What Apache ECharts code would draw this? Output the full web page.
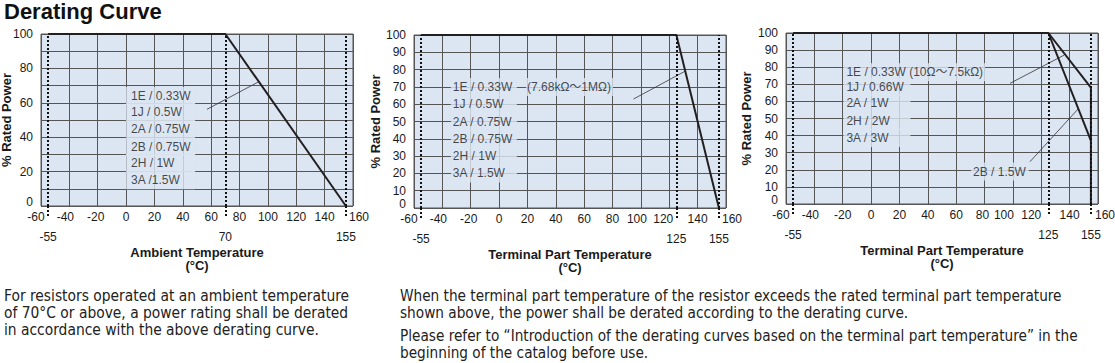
<!DOCTYPE html>
<html>
<head>
<meta charset="utf-8">
<script src="https://cdn.jsdelivr.net/npm/echarts@6/dist/echarts.min.js"></script>
<style>
html,body{margin:0;padding:0;background:#fff;}
#chart{position:absolute;left:0;top:0;width:1115px;height:363px;}
.para{position:absolute;font-family:"DejaVu Sans Condensed","Liberation Sans",sans-serif;line-height:17px;color:#222;white-space:nowrap;}
</style>
</head>
<body>
<div id="chart"></div>
<div class="para" id="p1" style="left:4px;top:288px;font-size:15.4px;"></div>
<div class="para" id="p2" style="left:400px;top:288px;font-size:15.2px;"></div>
<div class="para" id="p3" style="left:400px;top:328px;font-size:15.2px;"></div>
<script>
// ---------- data ----------
const xTickValues = [-60, 160, 20];           // min, max, interval of temperature axis
const yTickValues = [0, 100, 10];             // min, max, interval of % power axis

const curve1 = [[-55, 100], [70, 100], [155, 0]];
const curve2 = [[-55, 100], [125, 100], [155, 0]];
const curve3Outer = [[-55, 100], [125, 100], [155, 68], [155, 0]];
const curve3Inner = [[125, 100], [155, 37]];

const marks1 = [-55, 70, 155];
const marks2 = [-55, 125, 155];
const marks3 = [-55, 125, 155];

const labels1 = ['1E / 0.33W', '1J / 0.5W', '2A / 0.75W', '2B / 0.75W', '2H / 1W', '3A /1.5W'];
const labels1Y = [64, 54.5, 44.5, 34.5, 25, 15];
const labels1X = 0;
const leader1 = [[57, 56.2], [93, 72]];

const labels2 = ['1E / 0.33W', '1J / 0.5W', '2A / 0.75W', '2B / 0.75W', '2H / 1W', '3A / 1.5W'];
const labels2Y = [70, 60, 50, 40, 30, 20];
const labels2X = -34;
const extra2 = ['(7.68kΩ〜1MΩ)'];
const extra2Pos = [19, 70];
const leader2 = [[94.8, 63], [131, 79]];

const labels3Top = ['1E / 0.33W (10Ω〜7.5kΩ)'];
const labels3TopY = [77];
const labels3 = ['1J / 0.66W', '2A / 1W', '2H / 2W', '3A / 3W'];
const labels3Y = [68.6, 59, 48.5, 38.6];
const labels3X = -19.5;
const extra3 = ['2B / 1.5W'];
const extra3Pos = [70.5, 19];
const leader3a = [[98, 70.6], [136, 87]];
const leader3b = [[112, 24.7], [146, 55.6]];

const xName1 = 'Ambient Temperature\n(°C)';
const xName2 = 'Terminal Part Temperature\n(°C)';
const yName = '% Rated Power';

const paragraph1 = ['For resistors operated at an ambient temperature', 'of 70°C or above, a power rating shall be derated', 'in accordance with the above derating curve.'];
const paragraph2 = ['When the terminal part temperature of the resistor exceeds the rated terminal part temperature', 'shown above, the power shall be derated according to the derating curve.'];
const paragraph3 = ['Please refer to “Introduction of the derating curves based on the terminal part temperature” in the', 'beginning of the catalog before use.'];

// ---------- style ----------
const FONT = 'Liberation Sans, Noto Sans CJK JP, sans-serif';
const BG = '#dce6f2';
const GRIDC = '#555';
const INK = '#231f20';
const TXT = '#1a1a1a';
// horizontal nudges (px) of some tick labels, as in the printed original
const labelNudge = [
  {'-60': -5, '-40': -4, '-20': -2, '160': 6},
  {'-60': -5, '-40': -4, '-20': -2, '100': -4, '120': -6, '160': 6},
  {'-60': -5, '-40': -4, '80': -2, '100': -9, '120': -10, '160': 7}
];
const yNameGaps = [29, 33, 34];

document.getElementById('p1').innerHTML = paragraph1.join('<br>');
document.getElementById('p2').innerHTML = paragraph2.join('<br>');
document.getElementById('p3').innerHTML = paragraph3.join('<br>');

const grids = [
  {left: 41, top: 34, width: 312, height: 172},
  {left: 414, top: 35, width: 312, height: 173},
  {left: 786, top: 33, width: 312, height: 171}
].map(g => Object.assign(g, {show: true, backgroundColor: BG, borderColor: GRIDC, borderWidth: 1,
  containLabel: false, outerBoundsMode: 'none'}));

function nudgeRich() {
  const rich = {};
  labelNudge.forEach(m => Object.values(m).forEach(d => {
    const key = (d < 0 ? 'l' : 'r') + Math.abs(d);
    rich[key] = {fontSize: 12, color: TXT, fontFamily: FONT, lineHeight: 12,
      padding: d < 0 ? [0, 2 * Math.abs(d), 0, 0] : [0, 0, 0, 2 * d]};
  }));
  return rich;
}
const RICH = nudgeRich();

const xAxes = [], yAxes = [];
const marksAll = [marks1, marks2, marks3];
const xNames = [xName1, xName2, xName2];
for (let i = 0; i < 3; i++) {
  const nudge = labelNudge[i];
  xAxes.push({
    gridIndex: i, type: 'value', min: xTickValues[0], max: xTickValues[1], interval: xTickValues[2],
    axisLine: {show: false}, axisTick: {show: false},
    splitLine: {show: true, lineStyle: {color: GRIDC, width: 1}},
    axisLabel: {margin: 5, fontSize: 12, lineHeight: 12, color: TXT, fontFamily: FONT, rich: RICH,
      showMinLabel: true, showMaxLabel: true, hideOverlap: false,
      formatter: v => {
        const d = nudge[String(v)];
        if (!d) return String(v);
        return '{' + (d < 0 ? 'l' : 'r') + Math.abs(d) + '|' + v + '}';
      }}
  });
  xAxes.push({
    gridIndex: i, type: 'value', min: xTickValues[0], max: xTickValues[1], position: 'bottom',
    axisLine: {show: false}, splitLine: {show: false},
    axisTick: {show: true, customValues: marksAll[i], length: 12, lineStyle: {type: [2, 2], color: '#111', width: 2}},
    axisLabel: {customValues: marksAll[i], margin: 25, fontSize: 12, lineHeight: 12, color: TXT, fontFamily: FONT},
    name: xNames[i], nameLocation: 'middle', nameGap: 40, nameMoveOverlap: false,
    nameTextStyle: {fontSize: 13, fontWeight: 'bold', color: TXT, fontFamily: FONT, lineHeight: 13}
  });
  yAxes.push({
    gridIndex: i, type: 'value', min: yTickValues[0], max: yTickValues[1], interval: yTickValues[2],
    axisLine: {show: false}, axisTick: {show: false},
    splitLine: {show: true, lineStyle: {color: GRIDC, width: 1}},
    axisLabel: {margin: 8, fontSize: 12, lineHeight: 9, color: TXT, fontFamily: FONT,
      showMinLabel: true, showMaxLabel: true, hideOverlap: false,
      verticalAlignMinLabel: 'bottom',
      formatter: i === 0 ? (v => (v % 20 === 0 ? String(v) : '')) : (v => String(v))},
    name: yName, nameLocation: 'middle', nameGap: yNameGaps[i], nameMoveOverlap: false,
    nameTextStyle: {fontSize: 13, fontWeight: 'bold', color: TXT, fontFamily: FONT, lineHeight: 12}
  });
}

function curveSeries(i, data, marks) {
  const s = {
    type: 'line', xAxisIndex: 2 * i, yAxisIndex: i, data: data, showSymbol: false, symbol: 'none',
    lineStyle: {color: INK, width: 2}, z: 4, silent: true, animation: false
  };
  if (marks) {
    s.markLine = {
      silent: true, symbol: 'none', label: {show: false}, animation: false,
      lineStyle: {type: [2, 2], color: '#111', width: 2},
      data: marks.map(v => ({xAxis: v}))
    };
  }
  return s;
}
function leaderSeries(i, data) {
  return {type: 'line', xAxisIndex: 2 * i, yAxisIndex: i, data: data, showSymbol: false, symbol: 'none',
    lineStyle: {color: '#333', width: 0.8}, z: 3, silent: true, animation: false};
}
function labelSeries(i, names, xs, ys, width, pad) {
  return {
    type: 'scatter', xAxisIndex: 2 * i, yAxisIndex: i, symbolSize: 0, z: 6, silent: true, animation: false,
    data: names.map((n, k) => ({name: n, value: [Array.isArray(xs) ? xs[k] : xs, ys[k]]})),
    label: {show: true, position: 'right', distance: 0, formatter: p => p.name,
      fontSize: 12, color: TXT, fontFamily: FONT, lineHeight: 14,
      backgroundColor: BG, padding: pad, width: width, overflow: 'none'}
  };
}

const series = [
  curveSeries(0, curve1, marks1),
  leaderSeries(0, leader1),
  labelSeries(0, labels1, labels1X, labels1Y, 62, [2, 2, 2, 5]),

  curveSeries(1, curve2, marks2),
  leaderSeries(1, leader2),
  labelSeries(1, labels2, labels2X, labels2Y, 62, [2, 2, 2, 2]),
  labelSeries(1, extra2, [extra2Pos[0]], [extra2Pos[1]], null, [2, 2, 2, 1]),

  curveSeries(2, curve3Outer, marks3),
  curveSeries(2, curve3Inner, null),
  leaderSeries(2, leader3a),
  leaderSeries(2, leader3b),
  labelSeries(2, labels3Top, labels3X, labels3TopY, null, [2, 2, 2, 3]),
  labelSeries(2, labels3, labels3X, labels3Y, 62, [2, 2, 2, 3]),
  labelSeries(2, extra3, [extra3Pos[0]], [extra3Pos[1]], null, [2, 3, 2, 2])
];

const chart = echarts.init(document.getElementById('chart'), null, {renderer: 'svg'});
chart.setOption({
  animation: false,
  title: {text: 'Derating Curve', left: 4, top: 0, padding: 0,
    textStyle: {fontSize: 22, fontWeight: 'bold', color: '#111', fontFamily: FONT}},
  grid: grids,
  xAxis: xAxes,
  yAxis: yAxes,
  series: series
});
</script>
</body>
</html>
